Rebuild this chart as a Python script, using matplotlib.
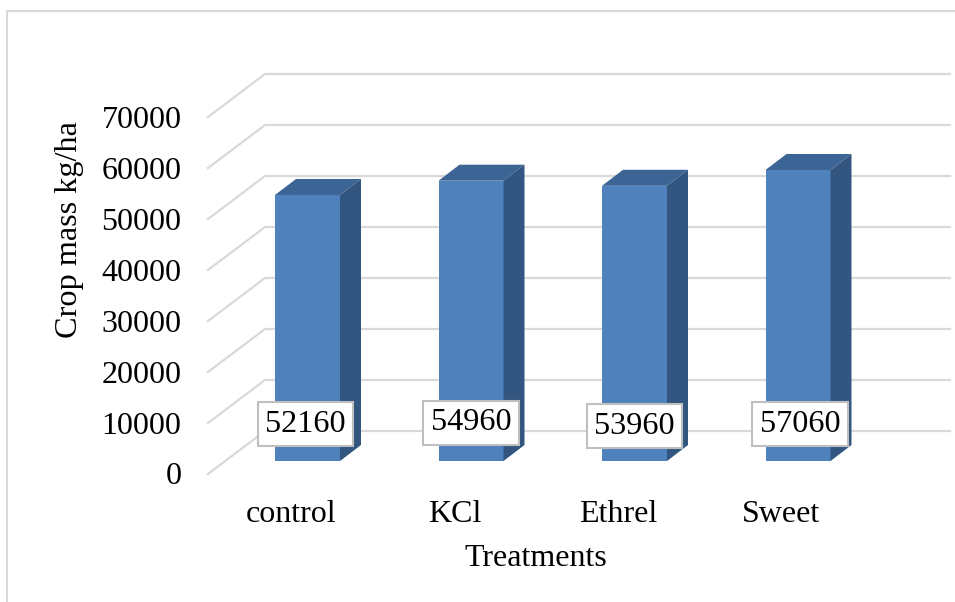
import matplotlib
matplotlib.use("Agg")
import matplotlib.pyplot as plt
from matplotlib.patches import Polygon
from matplotlib.lines import Line2D
from matplotlib.transforms import ScaledTranslation

categories = ["control", "KCl", "Ethrel", "Sweet"]
values = [52160, 54960, 53960, 57060]
y_ticks = [0, 10000, 20000, 30000, 40000, 50000, 60000, 70000]
label_offsets_px = [(-2, 0), (0, 1), (0, -2), (2, 0)]

W, H = 955, 602
plt.rcParams['font.family'] = ['Liberation Serif', 'DejaVu Serif']
fig = plt.figure(figsize=(W / 100, H / 100), dpi=100, facecolor="white")

# Plot plane in pixels (top-left origin)
L, R, T, B = 208, 950, 117, 474
ax = fig.add_axes([L / W, 1 - B / H, (R - L) / W, (B - T) / H])
ax.patch.set_alpha(0)
for s in ax.spines.values():
    s.set_visible(False)

px_per_val = (B - T) / 70000
step = 163.5
cx0 = 307.5
ax.set_ylim(0, 70000)
ax.set_xlim((L - cx0) / step, (R - cx0) / step)

def dx(p):
    return p / step

def dv(p):
    return p / px_per_val

GRID = "#D9D9D9"
# Gridlines: floor/wall diagonal then along the back wall
back_dx, back_dy = 57, 43
x_left = (L - cx0) / step
x_right = (R - cx0) / step
for v in y_ticks:
    ax.plot([x_left, x_left + dx(back_dx), x_right],
            [v, v + dv(back_dy), v + dv(back_dy)],
            color=GRID, lw=1.6, clip_on=False, zorder=1, solid_joinstyle="miter")

# 3D bars
bar_w = dx(65)
base = dv(13)
depth_x, depth_y = dx(21), dv(16)
FRONT, TOP, SIDE = "#4F81BD", "#3C6494", "#325680"
xs = list(range(len(categories)))
ax.bar(xs, values, width=bar_w, bottom=base, color=FRONT, zorder=3, clip_on=False)
for x, v in zip(xs, values):
    l, r = x - bar_w / 2, x + bar_w / 2
    t = v + base
    ax.add_patch(Polygon([(l, t), (r, t), (r + depth_x, t + depth_y), (l + depth_x, t + depth_y)],
                         closed=True, facecolor=TOP, edgecolor="none", zorder=3, clip_on=False))
    ax.add_patch(Polygon([(r, base), (r + depth_x, base + depth_y), (r + depth_x, t + depth_y), (r, t)],
                         closed=True, facecolor=SIDE, edgecolor="none", zorder=3, clip_on=False))

# Data labels
for x, v, (ox, oy) in zip(xs, values, label_offsets_px):
    ax.text(x + dx(ox), dv(50 + oy), str(v), ha="center", va="center", fontsize=23.2,
            color="black", zorder=5,
            bbox=dict(boxstyle="square,pad=0.23", facecolor="white", edgecolor="#BFBFBF", lw=1.5))

# Ticks
ax.set_yticks(y_ticks)
ax.set_yticklabels([str(v) for v in y_ticks], fontsize=23)
ax.set_xticks([x - dx(16.5) for x in xs])
ax.set_xticklabels(categories, fontsize=23)
ax.tick_params(axis="both", length=0)
ax.tick_params(axis="y", pad=19)
ax.tick_params(axis="x", pad=19)
shift = ScaledTranslation(0, -3 / 100, fig.dpi_scale_trans)
for lab in ax.get_yticklabels():
    lab.set_verticalalignment("center")
    lab.set_transform(lab.get_transform() + shift)

# Axis titles
fig.text(536 / W, 1 - 559 / H, "Treatments", ha="center", va="center", fontsize=23)
fig.text(69 / W, 1 - 230 / H, "Crop mass kg/ha", ha="center", va="center", rotation=90, fontsize=23.2)

# Chart-area border (top and left only visible)
fig.add_artist(Line2D([7 / W, 7 / W, 1], [0, 1 - 11 / H, 1 - 11 / H],
                      color="#D9D9D9", lw=1.5, transform=fig.transFigure))

fig.savefig("out.png", dpi=100)
